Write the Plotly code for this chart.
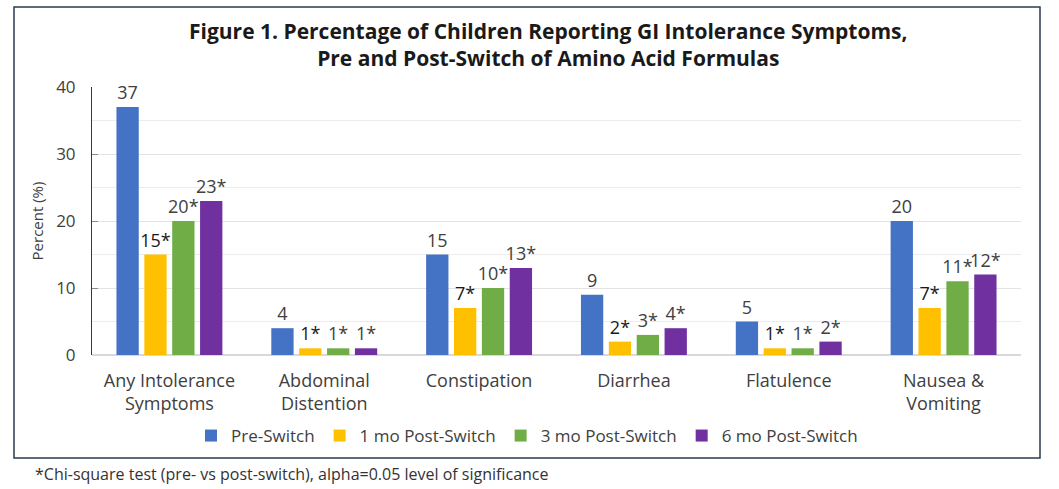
import plotly.graph_objects as go

categories = ["Any Intolerance<br>Symptoms", "Abdominal<br>Distention", "Constipation",
              "Diarrhea", "Flatulence", "Nausea &<br>Vomiting"]
series_names = ["Pre-Switch", "1 mo Post-Switch", "3 mo Post-Switch", "6 mo Post-Switch"]
pre_switch = [37, 4, 15, 9, 5, 20]
post_1mo = [15, 1, 7, 2, 1, 7]
post_3mo = [20, 1, 10, 3, 1, 11]
post_6mo = [23, 1, 13, 4, 2, 12]
significant = [False, True, True, True]
colors = ["#4472C4", "#FFC000", "#70AD47", "#7030A0"]
label_colors = ["#404040", "#1a1a1a", "#404040", "#404040"]

FONT = "Open Sans, sans-serif"

fig = go.Figure()
for name, vals, sig, col, lcol in zip(series_names, [pre_switch, post_1mo, post_3mo, post_6mo],
                                      significant, colors, label_colors):
    fig.add_trace(go.Bar(
        name=name, x=categories, y=vals,
        marker=dict(color=col, line=dict(width=0)),
        text=[f"{v}{'*' if sig else ''}" for v in vals],
        textposition="outside", constraintext="none", cliponaxis=False,
        textfont=dict(size=18, color=lcol, family=FONT),
    ))

W, H = 1059, 489
L, R, T, B = 92, 38, 87, 134
pw, ph = W - L - R, H - T - B

def px(x):
    return (x - L) / pw

def py(y):
    return (H - B - y) / ph

fig.update_layout(
    width=W, height=H,
    margin=dict(l=L, r=R, t=T, b=B),
    paper_bgcolor="white", plot_bgcolor="white",
    barmode="group", bargap=0.28, bargroupgap=0.2,
    font=dict(family=FONT, color="#404040"),
    showlegend=True,
    legend=dict(orientation="h", x=px(527), xanchor="center", y=py(436), yanchor="middle",
                font=dict(size=17, color="#404040"), itemwidth=30, traceorder="normal"),
    xaxis=dict(tickfont=dict(size=18, color="#404040"), showline=False, ticks="",
               ticklabelstandoff=13, fixedrange=True),
    yaxis=dict(range=[0, 40], dtick=10, showgrid=True, gridcolor="#e3e3e3", gridwidth=1,
               minor=dict(dtick=5, showgrid=True, gridcolor="#ececec"),
               showline=True, linecolor="#2b3a4f", linewidth=1,
               ticks="inside", ticklen=6, tickcolor="#8a8a8a",
               tickfont=dict(size=17, color="#404040"), ticklabelstandoff=12,
               zeroline=True, zerolinecolor="#d9d9d9",
               title=dict(text="Percent (%)", font=dict(size=15, color="#404040"), standoff=8)),
    annotations=[
        dict(text="<b>Figure 1. Percentage of Children Reporting GI Intolerance Symptoms,<br>"
                  "Pre and Post-Switch of Amino Acid Formulas</b>",
             xref="paper", yref="paper", x=px(548), y=py(44), xanchor="center", yanchor="middle",
             showarrow=False, font=dict(size=21, color="#1a1a1a", family=FONT)),
        dict(text="*Chi-square test (pre- vs post-switch), alpha=0.05 level of significance",
             xref="paper", yref="paper", x=px(33), y=py(474), xanchor="left", yanchor="middle",
             showarrow=False, font=dict(size=16, color="#333333", family=FONT)),
    ],
    shapes=[dict(type="rect", xref="paper", yref="paper",
                 x0=px(14), x1=px(1040), y0=py(458), y1=py(7),
                 line=dict(color="#2b3a4f", width=1.5), fillcolor="rgba(0,0,0,0)", layer="below")],
)

fig.write_html("out.html")
